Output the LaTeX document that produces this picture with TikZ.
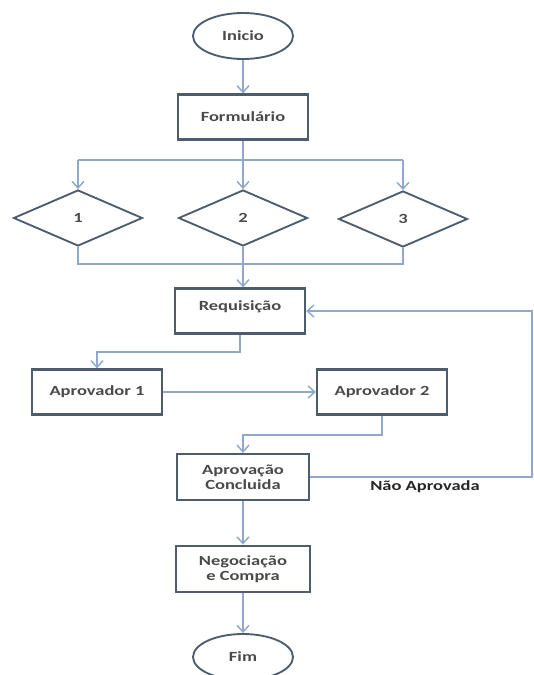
\documentclass[tikz,border=0pt]{standalone}
\usepackage{fontspec}
\setmainfont{Carlito}[FakeStretch=1.32]
\usetikzlibrary{shapes.geometric,arrows.meta}
\definecolor{edgeblue}{HTML}{8EA9CB}
\definecolor{boxline}{HTML}{4D5D6E}
\definecolor{txtgray}{HTML}{4A4A4A}
\tikzset{
  boxnode/.style={draw=boxline, line width=1.7pt, fill=white, rectangle,
    minimum width=97.5pt, minimum height=33.75pt, inner sep=1pt,
    align=center, font=\bfseries\fontsize{10.5pt}{11.5pt}\selectfont, text=txtgray},
  termnode/.style={draw=boxline, line width=1.4pt, fill=white, ellipse,
    minimum width=75pt, minimum height=34.5pt, inner sep=0pt,
    font=\bfseries\fontsize{10.5pt}{12pt}\selectfont, text=txtgray},
  choice/.style={draw=boxline, line width=1.4pt, fill=white, diamond,
    minimum width=96.75pt, minimum height=42pt, inner sep=0pt,
    font=\bfseries\fontsize{10.5pt}{12pt}\selectfont, text=txtgray},
  link/.style={draw=edgeblue, line width=1.3pt},
  flow/.style={link, -{Straight Barb[length=5pt,width=9pt,line width=1.1pt]}},
}
\begin{document}
\begin{tikzpicture}[x=0.75pt,y=-0.75pt]
\useasboundingbox (0,0) rectangle (534,675);

% terminals and process steps
\node[termnode] (inicio) at (243,36) {Inicio};
\node[boxnode] (form) at (243,117) {Formulário};
\node[choice] (c1) at (78,218) {1};
\node[choice] (c2) at (243,218) {2};
\node[choice] (c3) at (403,219) {3};
\node[boxnode] (req) at (240,311) {Requisição\\[-3pt]\mbox{}};
\node[boxnode] (ap1) at (97,392) {Aprovador 1};
\node[boxnode] (ap2) at (382,392) {Aprovador 2};
\node[boxnode, minimum width=99pt, minimum height=34.5pt] (conc) at (243,477) {Aprovação\\Concluida};
\node[boxnode, minimum width=101pt, minimum height=35pt] (neg) at (243,569) {Negociação\\e Compra};
\node[termnode] (fim) at (243,657) {Fim};

% helper points for the splits and merges
\coordinate (splitY) at (0,160);
\coordinate (mergeY) at (0,264);
\coordinate (reqY) at (0,352);
\coordinate (apY) at (0,435);
\coordinate (loopX) at (532,0);

% start to form
\draw[flow] (inicio) -- (form);

% form fans out to the three options
\draw[flow] (form.south) -- (c2.north);
\draw[link] (c1 |- splitY) -- (c3 |- splitY);
\draw[flow] (c1 |- splitY) -- (c1.north);
\draw[flow] (c3 |- splitY) -- (c3.north);

% options merge into the request
\draw[link] (c1.south) -- (c1 |- mergeY) -- (c3 |- mergeY) -- (c3.south);
\draw[flow] (c2.south) -- (req.north -| c2);

% approval chain
\draw[flow] (req.south) -- (req |- reqY) -- (ap1 |- reqY) -- (ap1.north);
\draw[flow] (ap1.east) -- (ap2.west);
\draw[flow] (ap2.south) -- (ap2 |- apY) -- (conc |- apY) -- (conc.north);

% rejected loop back to the request
\draw[flow] (conc.east) -- (loopX |- conc.east) -- (loopX |- req.east) -- (req.east);
\node[font=\bfseries\fontsize{10.5pt}{12pt}\selectfont, text=black!85] (nao) at (425,487) {Não Aprovada};

% purchase and end
\draw[flow] (conc.south) -- (neg.north);
\draw[flow] (neg.south) -- (fim.north);
\end{tikzpicture}
\end{document}
